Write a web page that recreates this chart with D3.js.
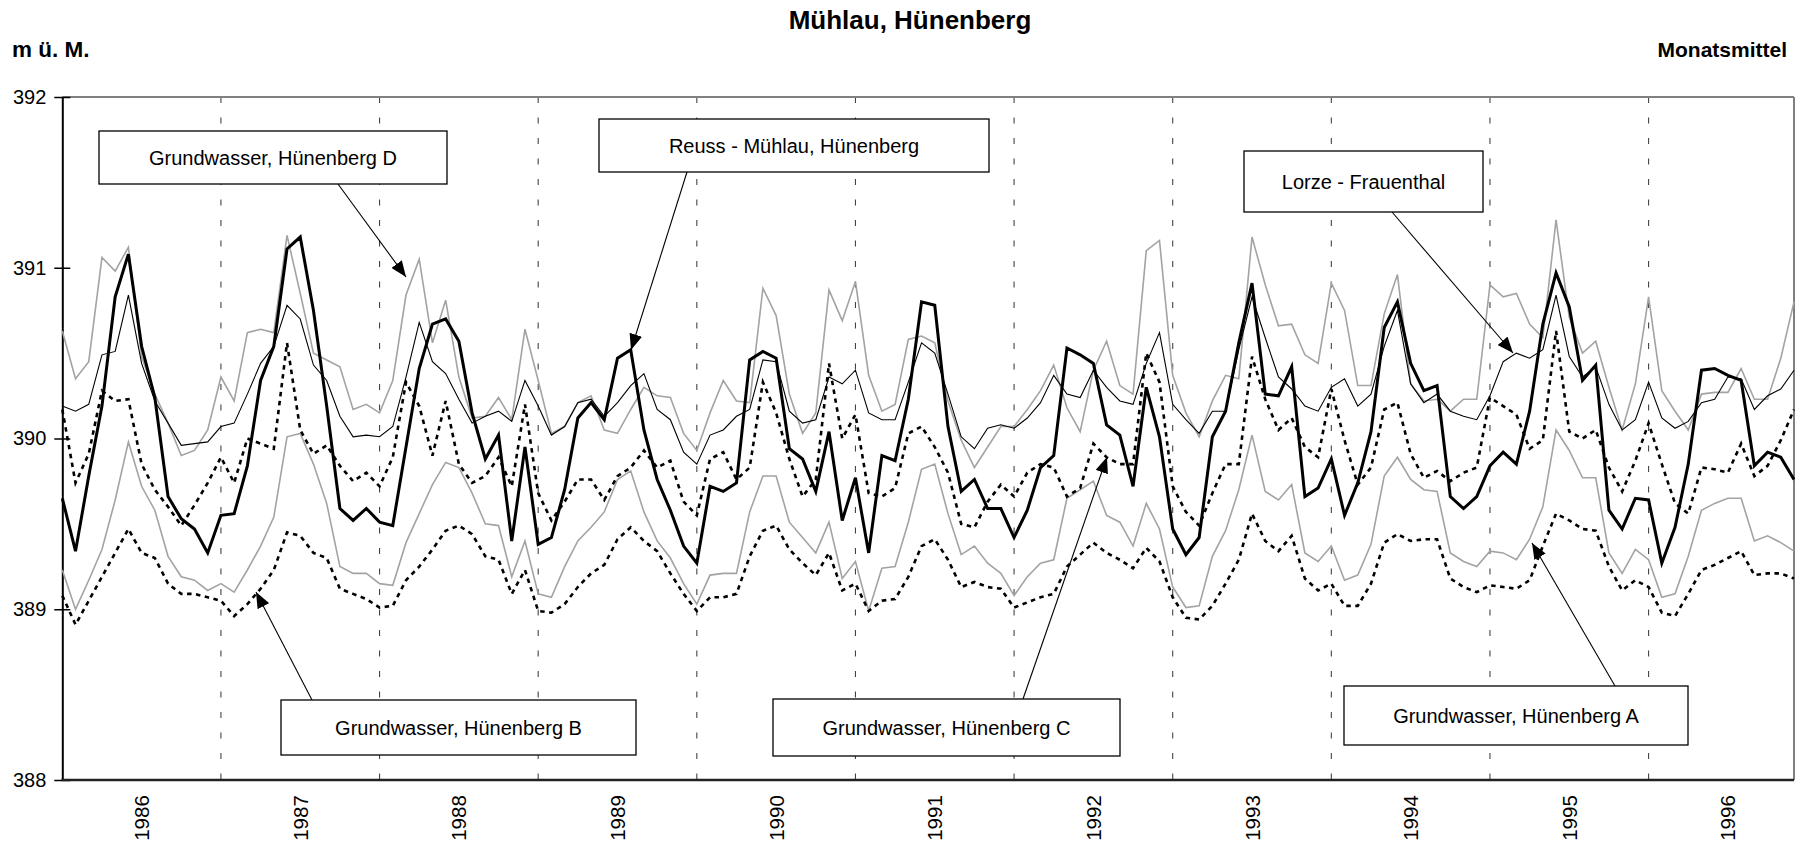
<!DOCTYPE html>
<html><head><meta charset="utf-8">
<script src="https://cdn.jsdelivr.net/npm/d3@7"></script>
<style>
body{margin:0;background:#fff}
svg{display:block}
text{font-family:"Liberation Sans",Arial,Helvetica,sans-serif;fill:#000}
</style>
</head><body>
<svg id="chart" width="1804" height="846"></svg>
<script>
// ---- data (monthly means, Jan 1986 – Dec 1996) ----
const years = ["1986","1987","1988","1989","1990","1991","1992","1993","1994","1995","1996"];
const yTicks = [388, 389, 390, 391, 392];

const reuss = [
389.65,389.34,389.78,390.19,390.83,391.08,390.54,390.24,389.66,389.53,389.47,389.33,
389.55,389.56,389.84,390.34,390.54,391.11,391.18,390.75,390.19,389.59,389.52,389.59,
389.51,389.49,389.95,390.41,390.67,390.70,390.57,390.15,389.88,390.02,389.40,389.95,
389.38,389.42,389.70,390.12,390.21,390.11,390.47,390.52,390.05,389.76,389.58,389.37,
389.27,389.72,389.69,389.74,390.46,390.51,390.47,389.94,389.88,389.69,390.04,389.52,
389.77,389.33,389.90,389.87,390.23,390.80,390.78,390.07,389.69,389.76,389.59,389.59,
389.42,389.58,389.83,389.90,390.53,390.49,390.44,390.08,390.02,389.72,390.30,390.01,
389.47,389.32,389.42,390.01,390.16,390.56,390.91,390.26,390.25,390.42,389.66,389.71,
389.88,389.55,389.74,390.04,390.65,390.80,390.44,390.28,390.31,389.66,389.59,389.66,
389.84,389.92,389.85,390.16,390.67,390.97,390.77,390.34,390.43,389.58,389.47,389.65,
389.64,389.27,389.48,389.85,390.40,390.41,390.37,390.34,389.84,389.92,389.89,389.76];

const lorze = [
390.19,390.16,390.20,390.49,390.51,390.84,390.44,390.22,390.09,389.96,389.97,389.98,
390.07,390.09,390.26,390.44,390.54,390.78,390.70,390.43,390.34,390.13,390.01,390.02,
390.01,390.07,390.36,390.68,390.45,390.38,390.23,390.09,390.13,390.16,390.10,390.34,
390.19,390.02,390.07,390.21,390.23,390.13,390.21,390.31,390.38,390.17,390.11,389.92,
389.85,390.02,390.05,390.13,390.17,390.46,390.45,390.16,390.09,390.11,390.36,390.32,
390.40,390.15,390.11,390.11,390.33,390.56,390.50,390.26,390.01,389.94,390.06,390.08,
390.06,390.12,390.21,390.37,390.26,390.24,390.40,390.30,390.22,390.20,390.44,390.62,
390.20,390.11,390.03,390.16,390.16,390.52,390.83,390.59,390.36,390.29,390.19,390.16,
390.30,390.35,390.19,390.26,390.54,390.75,390.32,390.21,390.26,390.16,390.13,390.11,
390.25,390.45,390.50,390.47,390.52,390.84,390.48,390.36,390.42,390.20,390.05,390.11,
390.33,390.12,390.06,390.10,390.21,390.23,390.36,390.35,390.17,390.25,390.29,390.40];

const gwD = [
390.63,390.35,390.45,391.06,390.98,391.12,390.48,390.26,390.09,389.90,389.93,390.05,
390.36,390.22,390.62,390.64,390.62,391.19,390.85,390.50,390.46,390.42,390.17,390.20,
390.15,390.34,390.84,391.05,390.56,390.81,390.36,390.12,390.13,390.24,390.11,390.64,
390.34,390.03,390.07,390.21,390.25,390.05,390.03,390.17,390.30,390.25,390.24,390.03,
389.93,390.15,390.34,390.22,390.21,390.88,390.72,390.26,390.03,390.15,390.87,390.69,
390.92,390.37,390.16,390.20,390.58,390.60,390.56,390.22,389.99,389.83,389.95,390.07,
390.07,390.17,390.28,390.43,390.18,390.04,390.40,390.57,390.31,390.26,391.10,391.16,
390.37,390.15,390.01,390.22,390.37,390.35,391.18,390.90,390.66,390.67,390.49,390.44,
390.91,390.75,390.31,390.31,390.73,390.96,390.32,390.22,390.23,390.16,390.23,390.23,
390.90,390.83,390.85,390.67,390.59,391.28,390.71,390.50,390.57,390.30,390.05,390.32,
390.83,390.28,390.16,390.05,390.26,390.27,390.27,390.41,390.23,390.23,390.47,390.80];

const gwC = [
390.17,389.74,389.91,390.28,390.22,390.23,389.85,389.70,389.60,389.49,389.61,389.74,
389.89,389.74,390.00,389.97,389.94,390.56,390.05,389.91,389.96,389.84,389.75,389.80,
389.72,389.89,390.33,390.19,389.90,390.22,389.85,389.74,389.78,389.89,389.72,390.20,
389.68,389.52,389.63,389.76,389.76,389.64,389.78,389.83,389.93,389.83,389.87,389.63,
389.55,389.88,389.92,389.76,389.83,390.33,390.15,389.88,389.66,389.76,390.44,390.00,
390.14,389.68,389.66,389.71,390.03,390.07,389.95,389.80,389.50,389.48,389.63,389.73,
389.66,389.80,389.85,389.83,389.66,389.71,389.97,389.89,389.85,389.85,390.50,390.33,
389.72,389.57,389.49,389.68,389.85,389.85,390.48,390.23,390.05,390.12,389.95,389.89,
390.29,389.99,389.73,389.83,390.17,390.21,389.91,389.77,389.81,389.75,389.80,389.83,
390.24,390.19,390.14,389.94,389.99,390.63,390.04,390.00,390.05,389.83,389.69,389.87,
390.09,389.85,389.62,389.56,389.83,389.82,389.80,389.97,389.78,389.84,389.99,390.17];

const gwA = [
389.23,389.00,389.17,389.35,389.64,389.98,389.72,389.58,389.31,389.19,389.17,389.11,
389.15,389.10,389.23,389.37,389.54,390.01,390.03,389.85,389.62,389.25,389.21,389.21,
389.15,389.14,389.39,389.56,389.73,389.86,389.83,389.68,389.50,389.49,389.19,389.40,
389.09,389.07,389.25,389.40,389.48,389.57,389.76,389.81,389.57,389.40,389.30,389.15,
389.03,389.20,389.21,389.21,389.57,389.78,389.78,389.51,389.42,389.33,389.51,389.18,
389.28,388.99,389.24,389.25,389.51,389.82,389.85,389.56,389.32,389.37,389.27,389.21,
389.08,389.19,389.27,389.29,389.65,389.70,389.75,389.55,389.51,389.37,389.62,389.47,
389.13,389.01,389.02,389.31,389.46,389.70,390.02,389.69,389.64,389.73,389.33,389.28,
389.37,389.17,389.20,389.38,389.78,389.89,389.76,389.70,389.69,389.33,389.28,389.25,
389.34,389.33,389.29,389.41,389.60,390.05,389.93,389.77,389.77,389.33,389.21,389.35,
389.29,389.07,389.09,389.31,389.58,389.62,389.65,389.65,389.40,389.43,389.39,389.34];

const gwB = [
389.08,388.91,389.05,389.19,389.33,389.47,389.33,389.30,389.15,389.09,389.09,389.07,
389.05,388.96,389.03,389.12,389.23,389.45,389.43,389.33,389.30,389.12,389.09,389.06,
389.01,389.02,389.17,389.25,389.35,389.46,389.49,389.44,389.31,389.29,389.09,389.23,
388.99,388.98,389.03,389.13,389.21,389.26,389.41,389.48,389.40,389.34,389.21,389.09,
388.99,389.07,389.07,389.09,389.31,389.46,389.49,389.35,389.27,389.20,389.33,389.11,
389.15,388.99,389.05,389.06,389.19,389.37,389.41,389.29,389.13,389.16,389.13,389.12,
389.01,389.04,389.07,389.09,389.25,389.32,389.39,389.33,389.29,389.24,389.36,389.28,
389.07,388.95,388.94,389.02,389.15,389.29,389.56,389.40,389.34,389.43,389.18,389.11,
389.15,389.02,389.02,389.15,389.39,389.44,389.40,389.41,389.41,389.18,389.13,389.10,
389.14,389.13,389.12,389.17,389.37,389.56,389.52,389.47,389.46,389.25,389.11,389.17,
389.13,388.98,388.96,389.09,389.23,389.26,389.30,389.34,389.20,389.21,389.21,389.18];

// ---- layout ----
const svg = d3.select("#chart");
const L = 62.3, R = 1794, T = 97, B = 780;
const nPts = reuss.length;
const x = d3.scaleLinear().domain([0, nPts - 1]).range([L, R]);
const y = d3.scaleLinear().domain([388, 392]).range([B, T]);

// titles
svg.append("text").attr("x", 910).attr("y", 29).attr("text-anchor", "middle")
  .style("font-size", "26px").style("font-weight", "bold").text("Mühlau, Hünenberg");
svg.append("text").attr("x", 12).attr("y", 57)
  .style("font-size", "22.5px").style("font-weight", "bold").text("m ü. M.");
svg.append("text").attr("x", 1787).attr("y", 57).attr("text-anchor", "end")
  .style("font-size", "21px").style("font-weight", "bold").text("Monatsmittel");

// vertical dashed gridlines at year boundaries
const yearIdx = years.map((_, k) => k * 12);
svg.append("g").selectAll("line").data(yearIdx.slice(1)).join("line")
  .attr("x1", d => x(d)).attr("x2", d => x(d)).attr("y1", T).attr("y2", B)
  .attr("stroke", "#444").attr("stroke-width", 1.1).attr("stroke-dasharray", "6,14.5");

// plot frame (top & right grey)
svg.append("line").attr("x1", L).attr("x2", R).attr("y1", T).attr("y2", T)
  .attr("stroke", "#808080").attr("stroke-width", 2);
svg.append("line").attr("x1", R).attr("x2", R).attr("y1", T).attr("y2", B)
  .attr("stroke", "#808080").attr("stroke-width", 2);

// y axis
const yAxis = d3.axisLeft(y).tickValues(yTicks).tickFormat(d3.format("d")).tickSizeInner(8).tickSizeOuter(0).tickPadding(10);
const gy = svg.append("g").attr("transform", `translate(${L},0)`).call(yAxis);
gy.select(".domain").attr("stroke", "#000").attr("stroke-width", 2);
gy.selectAll(".tick line").attr("stroke", "#000").attr("stroke-width", 1.5).attr("x2", 8).attr("x1", -8);
gy.selectAll(".tick text").style("font-size", "20px").style("font-family", "'Liberation Sans',Arial,sans-serif").attr("x", -16);

// x axis line
svg.append("line").attr("x1", L - 1).attr("x2", R).attr("y1", B).attr("y2", B)
  .attr("stroke", "#222").attr("stroke-width", 2.5);

// year labels (rotated)
svg.append("g").selectAll("text").data(years).join("text")
  .attr("transform", (d, k) => `translate(${x(k * 12 + 6)},818) rotate(-90)`)
  .attr("text-anchor", "middle").attr("dominant-baseline", "central")
  .style("font-size", "20.5px").text(d => d);

// series lines
const line = d3.line().x((d, i) => x(i)).y(d => y(d));
const series = [
  {data: gwA, stroke: "#a3a3a3", w: 1.6, dash: null},
  {data: gwD, stroke: "#a3a3a3", w: 1.6, dash: null},
  {data: gwB, stroke: "#000", w: 2.6, dash: "4.5,4.5"},
  {data: gwC, stroke: "#000", w: 2.6, dash: "4.5,4.5"},
  {data: lorze, stroke: "#000", w: 1.1, dash: null},
  {data: reuss, stroke: "#000", w: 3, dash: null}
];
svg.append("g").selectAll("path").data(series).join("path")
  .attr("d", d => line(d.data)).attr("fill", "none")
  .attr("stroke", d => d.stroke).attr("stroke-width", d => d.w)
  .attr("stroke-dasharray", d => d.dash).attr("stroke-linejoin", "miter");

// annotations
const defs = svg.append("defs");
defs.append("marker").attr("id", "ah").attr("markerUnits", "userSpaceOnUse")
  .attr("markerWidth", 17).attr("markerHeight", 13).attr("refX", 16).attr("refY", 6.5)
  .attr("orient", "auto").append("path").attr("d", "M0,0 L16,6.5 L0,13 Z").attr("fill", "#000");

const notes = [
  {text: "Grundwasser, Hünenberg D", box: [99, 131, 348, 53], from: [338, 184], to: [406, 277]},
  {text: "Reuss - Mühlau, Hünenberg", box: [599, 119, 390, 53], from: [687, 172], to: [631, 350]},
  {text: "Lorze - Frauenthal", box: [1244, 151, 239, 61], from: [1392, 212], to: [1513, 353]},
  {text: "Grundwasser, Hünenberg B", box: [281, 700, 355, 55], from: [312, 700], to: [256, 592]},
  {text: "Grundwasser, Hünenberg C", box: [773, 699, 347, 57], from: [1023, 699], to: [1107, 457]},
  {text: "Grundwasser, Hünenberg A", box: [1344, 686, 344, 59], from: [1615, 686], to: [1532, 543]}
];
const gn = svg.append("g");
notes.forEach(n => {
  gn.append("line").attr("x1", n.from[0]).attr("y1", n.from[1]).attr("x2", n.to[0]).attr("y2", n.to[1])
    .attr("stroke", "#000").attr("stroke-width", 1.1).attr("marker-end", "url(#ah)");
  gn.append("rect").attr("x", n.box[0]).attr("y", n.box[1]).attr("width", n.box[2]).attr("height", n.box[3])
    .attr("fill", "#fff").attr("stroke", "#000").attr("stroke-width", 1.3);
  gn.append("text").attr("x", n.box[0] + n.box[2] / 2).attr("y", n.box[1] + n.box[3] / 2)
    .attr("text-anchor", "middle").attr("dominant-baseline", "central")
    .style("font-size", "20px").text(n.text);
});
</script>
</body></html>
